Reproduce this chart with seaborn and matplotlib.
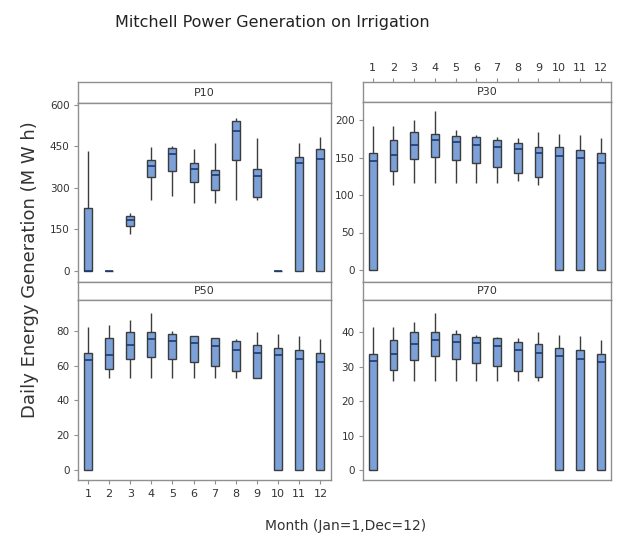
#!/usr/bin/env python3
import pandas as pd
import seaborn as sns
import matplotlib
matplotlib.use("Agg")
import matplotlib.pyplot as plt

months = list(range(1, 13))

# five-number summaries (min, Q1, median, Q3, max)
p10_lo = [0, 0, 135, 256, 272, 244, 244, 256, 256, 0, 0, 0]
p10_q1 = [0, 0, 163, 338, 362, 320, 292, 401, 268, 0, 0, 0]
p10_med = [0, 0, 183, 381, 422, 368, 346, 507, 344, 0, 389, 404]
p10_q3 = [226, 0, 199, 401, 446, 391, 365, 543, 368, 0, 413, 441]
p10_hi = [433, 0, 208, 449, 452, 439, 461, 554, 479, 0, 461, 485]

p30_lo = [0, 113, 116, 116, 116, 116, 116, 119, 113, 0, 0, 0]
p30_q1 = [0, 132, 148, 151, 147, 143, 137, 130, 124, 0, 0, 0]
p30_med = [145, 154, 167, 173, 171, 167, 164, 161, 156, 152, 150, 143]
p30_q3 = [156, 173, 184, 181, 179, 178, 173, 169, 164, 164, 160, 156]
p30_hi = [192, 192, 200, 212, 187, 180, 177, 176, 184, 181, 180, 176]

p50_lo = [0, 53, 53, 53, 53, 53, 53, 53, 53, 0, 0, 0]
p50_q1 = [0, 58, 64, 65, 64, 62, 60, 57, 53, 0, 0, 0]
p50_med = [63, 66, 72, 75, 74, 73, 71, 69, 67, 66, 64, 62]
p50_q3 = [67, 76, 79, 79, 78, 77, 76, 74, 72, 70, 69, 67]
p50_hi = [82, 83, 86, 90, 80, 77, 76, 75, 79, 78, 77, 75]

p70_lo = [0, 26, 26, 26, 26, 26, 26, 26, 26, 0, 0, 0]
p70_q1 = [0, 29.2, 32, 33, 32.3, 31.2, 30.2, 28.9, 26.9, 0, 0, 0]
p70_med = [31.7, 33.6, 36.5, 37.8, 37.3, 36.8, 36, 34.9, 34.1, 33.2, 32.3, 31.5]
p70_q3 = [33.6, 37.8, 40, 40, 39.5, 38.7, 38.3, 37.3, 36.5, 35.5, 35, 33.6]
p70_hi = [41.5, 41.5, 43, 45.7, 40.7, 39.2, 38.7, 38.3, 40.2, 39.2, 38.9, 37.8]

panels = {
    "P10": (p10_lo, p10_q1, p10_med, p10_q3, p10_hi),
    "P30": (p30_lo, p30_q1, p30_med, p30_q3, p30_hi),
    "P50": (p50_lo, p50_q1, p50_med, p50_q3, p50_hi),
    "P70": (p70_lo, p70_q1, p70_med, p70_q3, p70_hi),
}

y_ticks = {
    "P10": [0, 150, 300, 450, 600],
    "P30": [0, 50, 100, 150, 200],
    "P50": [0, 20, 40, 60, 80],
    "P70": [0, 10, 20, 30, 40],
}
y_lims = {
    "P10": (-40, 607),
    "P30": (-16, 224),
    "P50": (-5.7, 97.6),
    "P70": (-2.9, 49.4),
}


def build_frame():
    rows = []
    for name, stats in panels.items():
        for i, m in enumerate(months):
            for s in stats:
                rows.append({"panel": name, "month": m, "value": s[i]})
    return pd.DataFrame(rows)


W, H = 624, 539


def px_axes(fig, x0, y0, x1, y1):
    return fig.add_axes([x0 / W, 1 - y1 / H, (x1 - x0) / W, (y1 - y0) / H])


FRAME = "#8f8f8f"
TXT = "#333333"


def style_frame(ax):
    for sp in ax.spines.values():
        sp.set_color(FRAME)
        sp.set_linewidth(1.0)


def main():
    df = build_frame()
    sns.set_style("white")
    plt.rcParams["font.family"] = ["DejaVu Sans"]

    fig = plt.figure(figsize=(W / 100, H / 100), dpi=100)

    cols = {"left": (78, 331), "right": (363, 611)}
    layout = {
        "P10": ("left", 82, 103, 282),
        "P30": ("right", 82, 102, 282),
        "P50": ("left", 282, 300, 480),
        "P70": ("right", 282, 300, 480),
    }
    xlim = (-0.47, 11.5)

    for name, (col, ht, pt, pb) in layout.items():
        x0, x1 = cols[col]
        hdr = px_axes(fig, x0, ht, x1, pt)
        ax = px_axes(fig, x0, pt, x1, pb)
        sub = df[df["panel"] == name]
        sns.boxplot(
            data=sub, x="month", y="value", order=months, ax=ax,
            color="#7ca0d8", saturation=1, width=0.38, whis=(0, 100),
            linecolor="#3c3c3c", linewidth=1.0, showcaps=False,
            medianprops={"color": "#1e3a70", "linewidth": 1.2},
        )
        ax.set_xlim(*xlim)
        ax.set_ylim(*y_lims[name])
        ax.set_yticks(y_ticks[name])
        ax.set_yticklabels([str(t) for t in y_ticks[name]])
        ax.set_xlabel("")
        ax.set_ylabel("")
        ax.tick_params(axis="y", labelsize=7.5, length=3, direction="out",
                       left=True, width=0.8, pad=3, colors=FRAME,
                       labelcolor=TXT)
        style_frame(ax)
        if name == "P50":
            ax.set_xticks(range(12))
            ax.set_xticklabels([str(m) for m in months])
            ax.tick_params(axis="x", labelsize=8, length=3, bottom=True,
                           colors=FRAME, labelcolor=TXT, width=0.8)
        else:
            ax.set_xticks([])

        hdr.set_xlim(*xlim)
        hdr.set_ylim(0, 1)
        hdr.set_yticks([])
        hdr.text(0.5, 0.5, name, transform=hdr.transAxes, ha="center",
                 va="center", fontsize=8, color=TXT)
        style_frame(hdr)
        if name == "P30":
            hdr.xaxis.tick_top()
            hdr.set_xticks(range(12))
            hdr.set_xticklabels([str(m) for m in months])
            hdr.tick_params(axis="x", labelsize=8, length=3, top=True,
                            colors=FRAME, labelcolor=TXT, width=0.8)
        else:
            hdr.set_xticks([])

    fig.text(0.437, 0.958, "Mitchell Power Generation on Irrigation",
             ha="center", va="center", fontsize=11.5, color="#222222")
    fig.text(0.048, 0.5, "Daily Energy Generation (M W h)", rotation=90,
             ha="center", va="center", fontsize=13, color=TXT)
    fig.text(0.554, 0.025, "Month (Jan=1,Dec=12)", ha="center",
             va="center", fontsize=10, color=TXT)

    fig.savefig("out.png", dpi=100)


if __name__ == "__main__":
    main()
